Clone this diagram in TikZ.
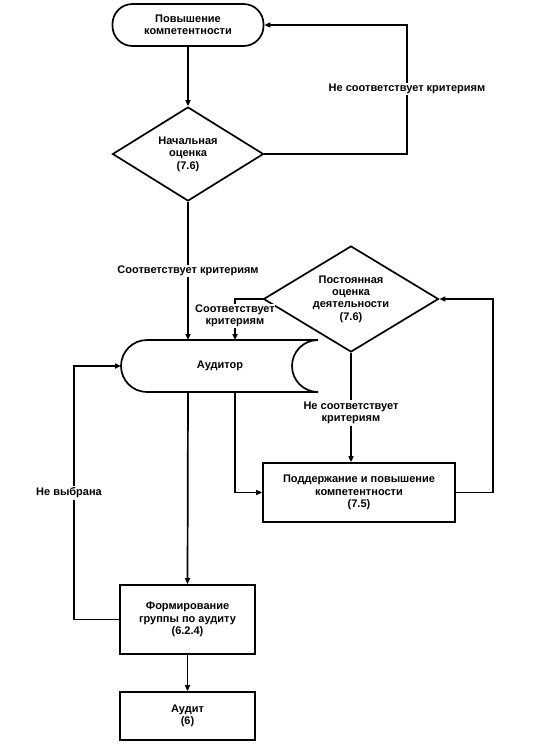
\documentclass[tikz,border=0pt]{standalone}
\usepackage{fontspec}
\setmainfont{Liberation Sans}
\usetikzlibrary{arrows.meta,shapes.geometric}
\begin{document}
\begin{tikzpicture}[x=1pt,y=1pt,
  every node/.style={font=\fontsize{11}{12.4}\selectfont\bfseries, align=center},
  ln/.style={line width=1.7pt},
  arr/.style={ln, -{Triangle[length=6pt,width=5pt]}},
  term/.style={draw, ln, rounded corners=20pt, minimum width=151pt, minimum height=42pt, inner sep=0pt},
  dia/.style={draw, ln, diamond, inner sep=0pt},
  box/.style={draw, ln, rectangle, inner sep=0pt},
  lbl/.style={fill=white, inner sep=1.5pt}]
\useasboundingbox (0,0) rectangle (534,-753);
% nodes
\node[term] (t1) at (188,-25) {Повышение\\компетентности};
\node[dia, aspect=1.6, minimum width=151pt, minimum height=94pt] (d1) at (188,-154) {Начальная\\оценка\\(7.6)};
\node[dia, aspect=1.65, minimum width=175pt, minimum height=106pt] (d2) at (351,-299) {Постоянная\\оценка\\деятельности\\(7.6)};
\node[box, minimum width=192pt, minimum height=59pt] (b1) at (359,-492.5) {Поддержание и повышение\\компетентности\\(7.5)};
\node[box, minimum width=135pt, minimum height=69pt] (b2) at (187.5,-619.5) {Формирование\\группы по аудиту\\(6.2.4)};
\node[box, minimum width=135pt, minimum height=48pt] (b3) at (187.5,-716) {Аудит\\(6)};
% auditor shape
\draw[ln] (318,-340) -- (147,-340) arc[start angle=90,end angle=270,radius=26] -- (318,-392)
  arc[start angle=270,end angle=90,radius=26] -- cycle;
\node (aud) at (220,-366) {Аудитор};
\coordinate (aT1) at (188,-340);
\coordinate (aT2) at (235,-340);
\coordinate (aB1) at (188,-392);
\coordinate (aB2) at (235,-392);
\coordinate (aL) at (121,-366);
% connectors
\draw[arr] (t1.south) -- (d1.north);
\draw[arr] (d1.east) -| (407,-89) |- (t1.east);
\draw[arr] (d1.south) -- (aT1);
\draw[arr] (d2.west) -| (aT2);
\draw[arr] (d2.south) -- (d2.south |- b1.north);
\draw[arr] (b1.east) -| (493,-299) -- (d2.east);
\draw[arr] (aB2) |- (b1.west);
\draw[arr] (aB1) -- (b2.north);
\draw[arr] (b2.west) -| (74,-366) -- (aL);
\draw[arr] (b2.south) -- (b3.north);
% labels
\node[lbl] (l1) at (407,-89) {Не соответствует критериям};
\node[lbl] (l2) at (188,-271) {Соответствует критериям};
\node[lbl, inner sep=0.5pt] (l3) at (235,-316) {Соответствует\\критериям};
\node[lbl] (l4) at (351,-413) {Не соответствует\\критериям};
\node[lbl] (l5) at (69,-493) {Не выбрана};
\end{tikzpicture}
\end{document}
